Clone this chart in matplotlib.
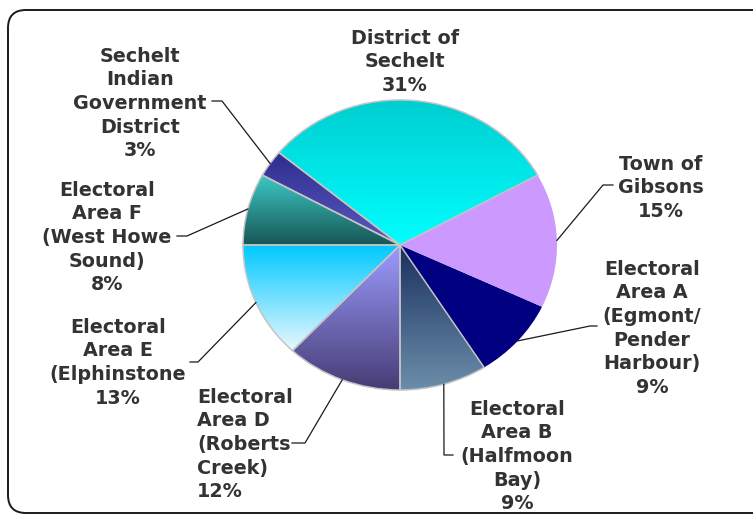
import numpy as np
import matplotlib
matplotlib.use("Agg")
import matplotlib.pyplot as plt
from matplotlib.colors import to_rgb
from matplotlib.patches import FancyBboxPatch

# ---- data (counter-clockwise order starting at 9 o'clock) ----
names = [
    "Electoral\nArea E\n(Elphinstone",
    "Electoral\nArea D\n(Roberts\nCreek)",
    "Electoral\nArea B\n(Halfmoon\nBay)",
    "Electoral\nArea A\n(Egmont/\nPender\nHarbour)",
    "Town of\nGibsons",
    "District of\nSechelt",
    "Sechelt\nIndian\nGovernment\nDistrict",
    "Electoral\nArea F\n(West Howe\nSound)",
]
shares = [13, 12, 9, 9, 15, 31, 3, 8]
top_colors = ["#00C8FF", "#9C9CFF", "#1A3060", "#000080", "#CC99FF", "#00CED1", "#2E2E8E", "#3CC8C4"]
bottom_colors = ["#EAF9FF", "#463C74", "#6C8EAA", "#000080", "#CC99FF", "#00FFFF", "#5A5AC0", "#175656"]

# ---- layout (pixels, y downward) ----
label_pos = [
    (118, 326, "center", [(190, 362), (198, 362)]),
    (197, 396, "left", [(292, 443), (305, 443)]),
    (517, 408, "center", [(453, 455), (444, 455)]),
    (652, 268, "center", [(597, 326), (590, 326)]),
    (661, 163, "center", [(613, 185), (603, 185)]),
    (405, 37, "center", None),
    (140, 55, "center", [(212, 101), (222, 101)]),
    (107, 189, "center", [(177, 236), (187, 236)]),
]
line_step = 23.6

W, H = 753, 515
fig = plt.figure(figsize=(W / 100, H / 100), dpi=100)
fig.patch.set_facecolor("white")

cx, cy, rx, ry = 400, 245, 157, 145
ax = fig.add_axes([(cx - rx) / W, (H - cy - ry) / H, 2 * rx / W, 2 * ry / H])
wedges, _ = ax.pie(shares, startangle=180, counterclock=True,
                   wedgeprops=dict(linewidth=0))

for w, c1, c2 in zip(wedges, top_colors, bottom_colors):
    if c1 == c2:
        w.set_facecolor(c1)
        w.set_edgecolor("none")
        continue
    th = np.radians(np.linspace(w.theta1, w.theta2, 200))
    ys = np.concatenate([np.sin(th), [0]])
    xs = np.concatenate([np.cos(th), [0]])
    ytop, ybot = ys.max(), ys.min()
    n = 256
    t = np.linspace(0, 1, n)[:, None]
    grad = (1 - t) * np.array(to_rgb(c1)) + t * np.array(to_rgb(c2))
    grad = np.repeat(grad[:, None, :], 2, axis=1)
    im = ax.imshow(grad, extent=[xs.min(), xs.max(), ybot, ytop], origin="upper",
                   aspect="auto", interpolation="bilinear", zorder=1)
    im.set_clip_path(w)
    w.set_facecolor("none")
    w.set_edgecolor("#C4C4C4")
    w.set_linewidth(1.1)
    w.set_zorder(2)

ax.set_xlim(-1, 1)
ax.set_ylim(-1, 1)
ax.set_aspect("auto")
ax.axis("off")

# overlay for labels, leaders and frame
ov = fig.add_axes([0, 0, 1, 1])
ov.set_xlim(0, W)
ov.set_ylim(H, 0)
ov.axis("off")

inv = ov.transData.inverted()
for w, name, v, (x, y0, ha, lead) in zip(wedges, names, shares, label_pos):
    lines = name.split("\n") + [f"{v}%"]
    for i, ln in enumerate(lines):
        ov.text(x, y0 + i * line_step + 6.8, ln, ha=ha, va="baseline",
                fontsize=13.8, fontweight="bold", color="#333333",
                family="DejaVu Sans")
    if lead is not None:
        mid = np.radians((w.theta1 + w.theta2) / 2)
        px, py = inv.transform(ax.transData.transform((np.cos(mid), np.sin(mid))))
        pts = lead + [(px, py)]
        ov.plot([p[0] for p in pts], [p[1] for p in pts], color="#1a1a1a", lw=0.9)

frame = FancyBboxPatch((8, 10), 766, 503, boxstyle="round,pad=0,rounding_size=18",
                       fill=False, lw=1.4, ec="#1a1a1a", clip_on=False)
ov.add_patch(frame)

fig.savefig("out.png", dpi=100)
